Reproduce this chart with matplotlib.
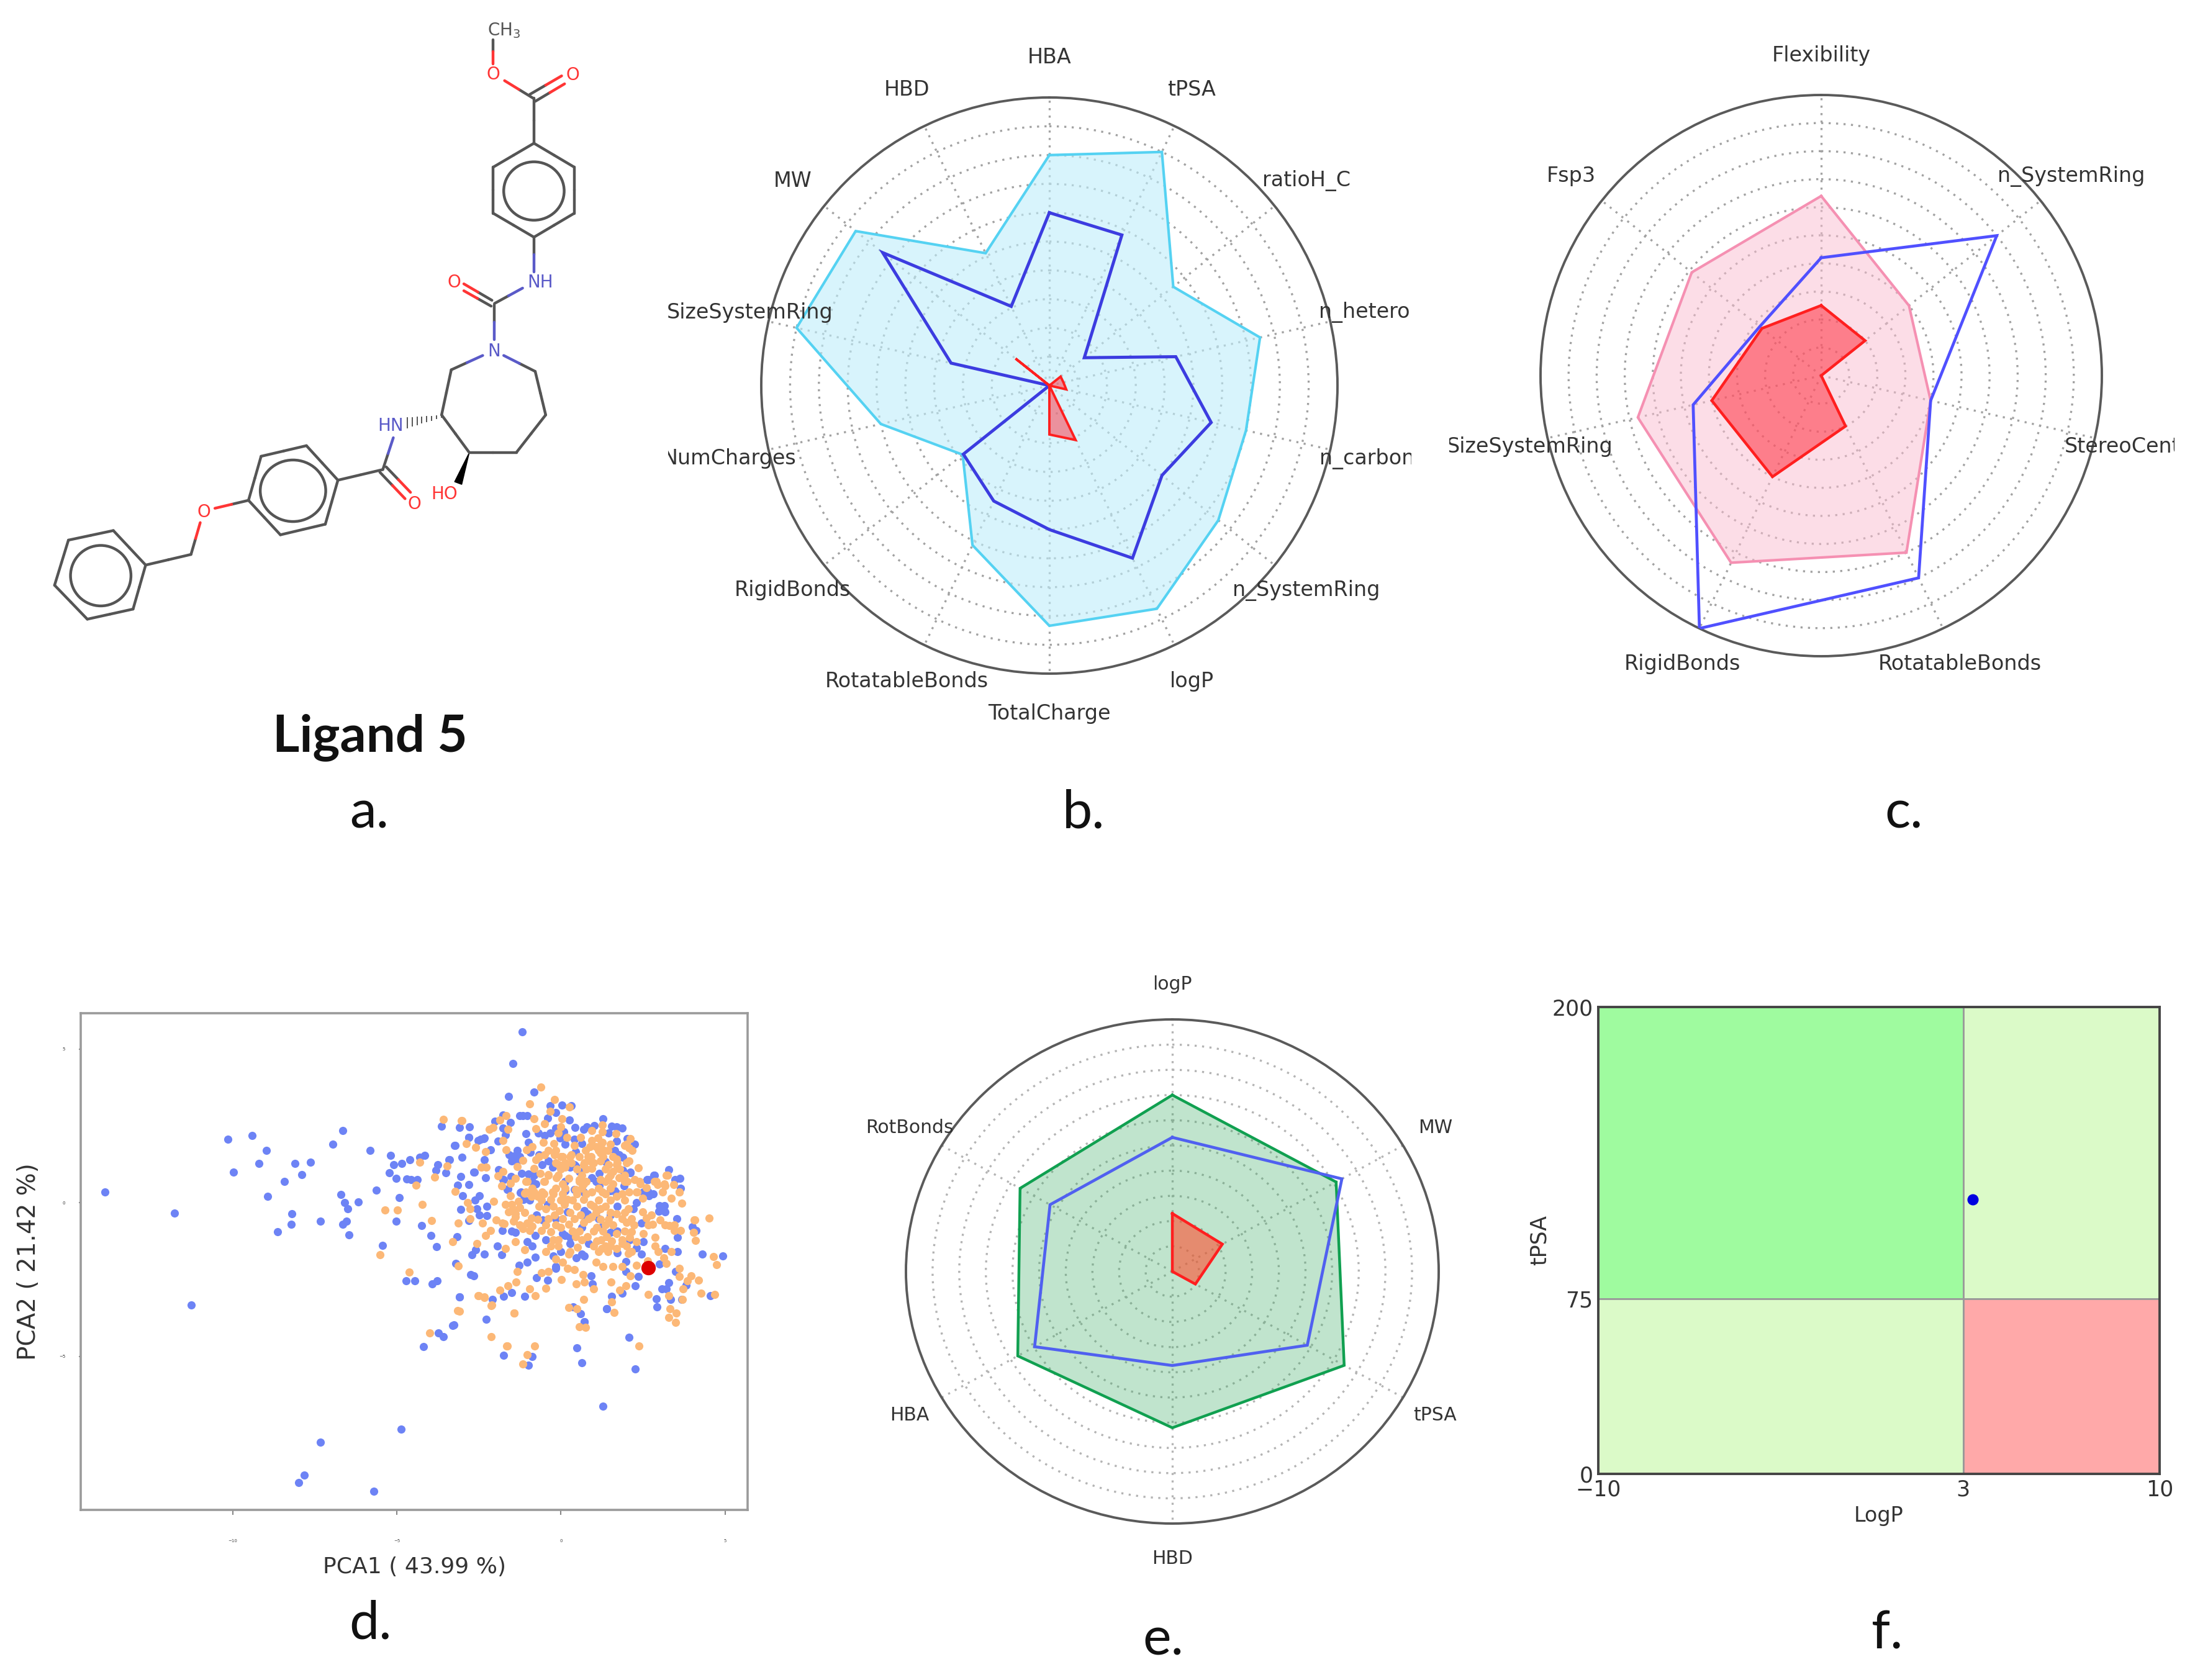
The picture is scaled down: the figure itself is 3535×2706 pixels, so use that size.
import numpy as np
import matplotlib
matplotlib.use("Agg")
import matplotlib.pyplot as plt
from matplotlib.patches import Ellipse, Polygon, Rectangle
from matplotlib.transforms import Bbox

W, H = 3535, 2706

# panel b
b_labels = ["HBA", "tPSA", "ratioH_C", "n_hetero", "n_carbon", "n_SystemRing", "logP", "TotalCharge",
            "RotatableBonds", "RigidBonds", "NumCharges", "SizeSystemRing", "MW", "HBD"]
b_upper = [0.80, 0.90, 0.55, 0.75, 0.70, 0.75, 0.86, 0.834, 0.615, 0.385, 0.60, 0.90, 0.86, 0.51]
b_ligand = [0.60, 0.58, 0.155, 0.45, 0.576, 0.50, 0.665, 0.50, 0.445, 0.382, 0.0, 0.35, 0.74, 0.305]
b_lower = [0.0, 0.0, 0.05, 0.05, 0.06, 0.0, 0.21, 0.17, 0.0, 0.0, 0.0, 0.0, 0.15, 0.0]

# panel c
c_labels = ["Flexibility", "n_SystemRing", "StereoCenter", "RotatableBonds", "RigidBonds", "SizeSystemRing", "Fsp3"]
c_upper = [0.64, 0.40, 0.40, 0.70, 0.74, 0.67, 0.59]
c_ligand = [0.42, 0.80, 0.40, 0.80, 1.0, 0.468, 0.28]
c_lower = [0.25, 0.20, 0.0, 0.20, 0.40, 0.40, 0.27]

# panel e
e_labels = ["logP", "MW", "tPSA", "HBD", "HBA", "RotBonds"]
e_upper = [0.70, 0.71, 0.745, 0.62, 0.67, 0.66]
e_ligand = [0.532, 0.735, 0.585, 0.373, 0.597, 0.53]
e_lower = [0.23, 0.217, 0.10, 0.0, 0.0, 0.0]

# panel f
f_xticks = [-10, 3, 10]
f_yticks = [0, 75, 200]
f_point = (3.34, 117.5)

# panel d
pca_ligand = (2.66, -2.12)
pca_blue = [
    (-13.89, .34), (-11.78, -.33), (-11.27, -3.32), (-10.15, 2.07), (-9.97, 1.0), (-9.4, 2.18), (-9.2, 1.28),
    (-8.97, 1.71), (-8.93, .2), (-8.64, -.94), (-8.43, .7), (-8.22, -.71), (-8.19, -.36), (-8.11, 1.28),
    (-7.9, .91), (-7.63, 1.32), (-7.32, -.6), (-6.95, 1.91), (-6.64, 2.35), (-6.71, .26), (-6.58, 0), (-6.49, -.2),
    (-6.18, .03), (-6.53, -.6), (-6.64, -.71), (-6.46, -1.05), (-5.81, 1.7), (-5.63, .4), (-5.44, -1.38),
    (-5.19, 1.54), (-5.1, 1.23), (-5.23, .97), (-5.02, .8), (-4.84, 1.28), (-4.6, 1.4), (-4.92, .16), (-5.02, -.6),
    (-4.69, .77), (-4.57, .75), (-4.37, .75), (-4.3, 1.48), (-4.15, 1.54), (-4.25, -.75), (-3.95, -1.07),
    (-3.79, -1.42), (-4.72, -2.55), (-4.46, -2.55), (-3.92, -2.64), (-3.77, -2.54), (-4.19, -4.69), (-3.74, -4.23),
    (-3.59, -4.37), (-3.29, -4.0), (-3.09, -3.06), (-2.75, -2.34), (-2.66, -2.38), (-2.28, -3.79), (-1.75, -4.96),
    (-.98, -5.3), (-.87, -5.01), (.48, -4.73), (.63, -5.2), (.71, -3.87), (1.39, -3.45), (2.07, -4.39), (2.26, -5.41),
    (1.28, -6.62), (-4.87, -7.38), (-7.33, -7.79), (-7.81, -8.86), (-7.99, -9.12), (-5.7, -9.39), (-1.18, 5.56),
    (-1.46, 4.53), (-1.6, 3.46), (-.81, 3.6),
    (-3.64, 2.5), (-3.09, 2.45), (-2.78, 2.47), (-3.24, 1.86), (-2.8, 2.12), (-2.44, 2.07), (-2.33, 2.1), (-1.92, 2.0),
    (-3.02, 1.49), (-2.33, 1.39), (-1.42, 1.53), (-1.58, 1.56), (-1.32, 1.7), (-1.25, 1.5), (-1.5, 1.36), (-1.35, 1.33),
    (-3.75, 1.24), (-3.8, 1.06), (-3.41, 1.39), (-3.51, .97), (-3.06, .85), (-2.64, 1.0), (-2.3, .82), (-3.14, .57),
    (-2.8, .6), (-2.99, .22), (-3.06, -.22), (-2.62, .08), (-2.48, .22), (-2.55, -.19), (-2.26, -.12), (-2.48, -.4),
    (-2.26, -.42), (-2.8, -.59), (-1.93, -1.4), (-2.71, -1.7), (-2.59, -1.54), (-2.33, -1.68), (-1.8, -1.7),
    (-1.79, -.9), (-1.5, -.93), (-1.39, -.96), (-1.03, -1.27), (-.88, -1.4), (-.78, -1.06), (-.79, -1.77), (-1.03, -1.94),
    (-1.27, -2.04), (-3.2, -1.97), (-3.17, -1.1), (-3.09, -3.07), (-2.08, -3.15), (-1.75, -3.05), (-1.5, -2.92), (-1.1, -3.05),
    (-.74, -2.45), (-.41, -2.52), (-.16, -2.14), (-.01, -1.6), (-.45, -1.2), (.13, -1.06), (.28, -1.33), (.46, -1.8),
    (.71, -1.74), (.93, -2.38), (.96, -2.65), (1.72, -1.64), (1.98, -1.91), (1.98, -2.24), (2.45, -1.67), (2.36, -2.4),
    (2.27, -2.7), (1.87, -2.95), (1.54, -3.05), (1.4, -3.45), (3.01, -1.99), (3.17, -1.5), (3.56, -1.6), (3.56, -1.13),
    (4.3, -1.67), (4.93, -1.74), (3.5, -2.24), (3.28, -2.61), (3.07, -2.81), (3.21, -2.81), (3.81, -2.68), (4.55, -3.02),
    (2.91, -3.12), (2.93, -3.39), (3.35, -3.15), (3.68, -3.14), (4.0, -.79), (4.12, -.9), (3.54, -.53), (3.07, -.2),
    (3.0, -.1), (3.15, -.1), (2.98, -.28), (3.18, -.3), (3.29, 1.08), (2.66, .75), (2.85, .89), (3.47, .75), (3.63, .79),
    (3.64, .48), (2.24, 1.9), (1.69, 2.0), (2.12, .99), (.38, -3.39), (.6, -3.62), (.72, -3.88), (-3.26, -3.98),
    (-1.26, 2.83), (-1.15, 2.83), (-1.03, 2.83), (-1.77, 2.86), (-.32, 3.16), (.03, 3.18), (.32, 3.16), (-.16, 2.94), (-.41, 2.76),
    (.26, 2.69), (-2.01, 2.65), (-1.53, 2.61), (-1.77, 2.44), (-1.69, 2.2), (-1.07, 2.24), (-.69, 2.27), (-.5, 2.18), (-.32, 2.27),
    (-.16, 2.44), (.43, 2.45), (.69, 2.4), (.79, 2.48), (1.01, 2.52), (1.29, 2.74), (1.54, 2.49), (1.7, 2.47), (1.86, 2.44), (1.45, 2.27),
    (2.02, 2.09), (.09, 2.3), (-.03, 2.1), (.13, 1.91), (.41, 2.07), (.63, 1.93), (-2.81, 2.13), (-2.52, 2.03), (-2.36, 2.09),
    (-.98, 1.97), (-3.23, 1.87), (-2.14, 1.72), (-3.4, 1.39), (-.93, 1.65), (-.66, 1.56), (.44, 1.66), (1.64, 1.7), (1.77, 1.56),
    (1.89, 1.49), (1.36, 1.33), (-.57, 1.23), (-.38, 1.36), (-.25, 1.16), (.44, 1.19), (.57, 1.02), (-2.65, .99), (-1.2, .96), (-.98, .94),
    (-.82, .89), (-1.89, 1.07), (-1.77, .75), (-1.51, .86), (-.88, .69), (-.76, .62), (-1.64, .42), (-1.23, .32), (.95, .82), (1.17, .96),
    (1.07, .69), (1.89, 1.06), (2.11, .98), (2.84, .9), (2.62, .75), (1.92, .55), (1.51, .38), (1.67, .32), (.69, .35), (1.17, .55), (.13, .38),
    (2.52, .35), (2.68, .22), (-1.75, .76), (-1.61, .45), (-1.21, .35), (.42, 1.23), (.28, 1.16), (.13, .69), (.42, .42), (1.65, .38),
    (2.3, .01), (2.2, -.19), (1.72, -.12), (1.51, -.39), (.71, -.26), (.81, -.36), (.64, -.39), (.2, -.29),
    (-.16, -.53), (-.41, -.05), (-.74, -.39), (-.56, -.56), (-1.14, .11), (-.96, .08), (.06, -1.0), (.28, -1.13), (1.14, -.53),
    (1.22, -.8), (.64, -.8), (.85, -1.33), (1.51, -.96), (1.72, -.93), (2.09, -1.2), (2.3, -1.47), (2.52, -1.27), (2.45, -.66),
    (2.81, .28), (2.66, .35), (-.23, -1.74), (-.16, -2.07), (.64, -1.67),
]
pca_orange = [
    (-5.35, -.24), (-4.99, -.24), (-5.51, -1.7), (-4.22, -.06), (-3.94, -.58), (-3.3, -1.27), (-4.63, -2.26), (-4.3, 1.32),
    (-4.42, .58), (-3.85, .83), (-3.59, 2.72), (-3.02, 2.68), (-4.0, -4.24), (-2.13, -4.37), (-1.66, -4.66), (-1.15, -5.24),
    (-1.03, -4.94), (-.8, -4.67), (-1.43, -3.59), (-3.14, -3.52), (-2.53, -3.02), (-2.34, -3.06), (-2.11, -3.33), (-.61, 3.77),
    (-.95, 3.21), (-.2, 3.36), (.26, 3.11), (2.37, -4.66), (4.51, -.5), (4.07, -.57),
    (-2.19, 2.4), (-2.07, 2.45), (-1.61, 2.4), (-2.89, 1.92), (-2.6, 1.81), (-2.3, 1.66), (-1.77, 2.03), (-1.67, 1.72),
    (-3.46, 1.19), (-3.22, .36), (-2.43, 1.15), (-2.27, 1.16), (-1.92, .88), (-1.39, .79), (-3.13, -.67), (-2.77, -.53),
    (-2.39, -.66), (-2.55, -1.33), (-2.3, -1.06), (-2.15, -.9), (-3.12, -2.06), (-1.33, -2.24), (-1.68, -1.5), (-1.39, -1.27),
    (-1.1, -1.54), (-1.97, -.56), (-1.72, -.69), (-1.79, -.66), (-1.39, -.46), (-1.03, -.66), (-.88, -.76), (-1.54, .22),
    (-1.68, -.05), (-1.46, -.19), (-1.39, -.36), (-2.84, .01), (-2.77, -.19), (-2.04, .05), (-2.51, -3.02), (-2.33, -3.08),
    (-2.12, -3.35), (-1.85, -2.85), (-1.61, -2.71), (-1.36, -2.58), (-3.09, -3.54), (-1.43, -3.59), (-.96, -2.81), (-.78, -3.02),
    (-.45, -2.78), (-.59, -2.28), (-.38, -2.24), (-.16, -1.84), (.06, -1.94), (.24, -1.67), (.2, -2.14), (.41, -2.18), (.02, -2.51),
    (.46, -2.65), (.67, -2.34), (.71, -2.58), (1.0, -2.81), (1.07, -1.94), (1.29, -2.07), (1.58, -2.07), (1.53, -2.58), (1.87, -2.07),
    (1.98, -2.71), (1.8, -2.85), (2.12, -2.38), (2.3, -2.04), (2.88, -1.13), (2.88, -1.4), (2.96, -1.6), (3.14, -1.8), (3.21, -1.97),
    (2.67, -2.98), (1.54, -3.22), (1.62, -3.58), (.7, -3.15), (.24, -3.42), (.49, -3.45), (.57, -4.03), (.75, -4.06), (-1.64, -4.67),
    (3.28, -3.02), (3.32, -3.45), (3.52, -3.59), (3.28, -3.74), (3.5, -3.89), (3.7, -3.14), (3.61, -2.14), (3.61, -2.41), (3.97, -2.38),
    (3.86, -2.55), (3.72, -2.81), (4.2, -2.53), (4.28, -2.94), (4.68, -2.98), (4.64, -1.75), (4.75, -2.01), (3.36, -1.6), (4.08, -.56),
    (4.04, -.96), (4.1, -1.23), (3.64, -.9), (3.46, -.73), (3.17, -.73), (3.03, -.56), (3.68, -.02), (3.36, .15), (2.75, -.39),
    (3.6, .35), (3.17, .55), (3.25, .89), (2.85, .69), (2.41, .62), (2.36, 1.14), (2.18, 1.7), (2.11, 2.09), (2.67, -.73), (2.52, -1.0),
    (2.3, -1.27), (2.09, -1.13), (1.87, -1.33),
    (-1.67, 2.84), (-.82, 2.74), (-.33, 2.98), (.03, 2.74), (-.5, 2.57), (-3.03, 2.67), (-1.86, 2.69), (-.77, 2.42), (0, 2.47), (-.08, 2.27),
    (1.26, 2.54), (.95, 2.34), (1.26, 2.3), (1.67, 2.24), (-.54, 1.97), (-.22, 1.93), (.19, 2.13), (.6, 2.13), (-.88, 1.83), (-1.04, 1.73),
    (.41, 1.87), (.95, 2.03), (1.13, 2.1), (1.26, 1.97), (1.07, 1.83), (1.32, 1.7), (1.2, 1.63), (.88, 1.83), (.76, 1.7), (1.95, 1.87),
    (2.08, 1.78), (-.38, 1.7), (-.5, 1.56), (-.19, 1.56), (.06, 1.5), (.32, 1.56), (.57, 1.5), (.82, 1.5), (-.76, 1.39), (-1.15, 1.38),
    (1.7, 1.43), (2.08, 1.35), (-1.32, 1.17), (-.82, 1.12), (-.06, 1.23), (.13, 1.16), (.32, 1.29), (.69, 1.23), (.95, 1.12), (.88, 1.36),
    (1.2, 1.36), (1.45, 1.23), (1.7, 1.23), (1.58, 1.02), (1.45, .82), (1.77, .82), (-1.77, 1.02), (-1.54, .64), (-1.07, .69),
    (-.63, .96), (-.38, .92), (-.5, .69), (-.13, .82), (.25, .79), (.06, .62), (.57, .75), (.69, .62), (.44, .42), (1.2, .75), (1.58, .62),
    (2.02, .69), (2.4, .69), (2.9, .69), (3.15, .62), (3.22, .89), (3.44, .59), (3.61, .35), (-1.8, .55), (-1.07, .35), (-.82, .35), (-.57, .35),
    (-.25, .35), (.95, .35), (1.26, .35), (2.08, .35), (2.33, .35),
    (-.3, .1), (.2, .1), (.7, .1), (.9, -.05), (1.2, -.2), (1.7, .2), (-.45, -.2), (-.05, -.25), (.1, -.05), (.6, -.4), (.95, -.45), (1.2, -.55),
    (1.7, -.35), (2.05, -.2), (-.7, -.55), (-.2, -.4), (.25, -.7), (.7, -.65), (1.1, -.8), (1.45, -.55), (2.0, -.65), (-.9, -.5), (-.6, -.9),
    (-.3, -.95), (.0, -.8), (.45, -1.1), (.8, -1.1), (1.1, -1.25), (1.4, -1.1), (1.7, -1.0), (2.15, -.95), (-.45, -1.6), (.5, -1.45), (1.25, -1.5),
    (1.55, -1.25), (1.7, -1.5), (2.15, -1.6), (2.65, -1.9), (2.05, -1.65), (-1.6, -.3), (-1.25, -.15), (-1.45, -.6), (-1.15, -.85), (-.95, -.9),
    (-1.1, .3), (-.9, .2), (-.7, .2), (-1.5, -.05), (-1.3, .05), (2.5, -.3), (2.6, -.5), (2.8, -.7), (3.3, -.75), (3.45, -.9), (2.3, .35), (2.5, .15),
    (2.6, .5), (2.95, .6), (3.1, .35), (2.25, .75),
    (1.22, 1.9), (1.51, 1.9), (2.01, 1.9), (-.16, 1.7), (1.14, 1.7), (1.43, 1.7), (-.67, 1.5), (-.01, 1.5), (.28, 1.5), (.93, 1.5), (1.29, 1.5),
    (1.58, 1.5), (-.16, 1.3), (.13, 1.3), (.71, 1.3), (1.0, 1.3), (1.72, 1.3), (2.01, 1.3), (-.01, 1.09), (.49, 1.09), (.78, 1.09), (1.36, 1.09),
    (1.8, 1.09), (-.38, .89), (-.09, .89), (.64, .89), (1.51, .89), (1.94, .89), (-1.03, .69), (-.52, .69), (.57, .69), (.78, .69), (1.36, .69),
    (1.94, .69), (-.88, .48), (-.16, .48), (.13, .48), (.64, .48), (1.14, .48), (1.51, .48), (-.52, .28), (-.23, .28), (.06, .28), (.49, .28), (.78, .28),
    (1.36, .28), (1.87, .28), (-.59, .08), (-.01, .08), (.35, .08), (1.14, .08), (1.51, .08), (1.94, .08), (-.67, -.12), (-.23, -.12), (.49, -.12),
    (1.0, -.12), (1.36, -.12), (-1.1, -.32), (.28, -.32), (1.07, -.32), (1.51, -.32), (1.94, -.32), (-.38, -.53), (.06, -.53), (.42, -.53), (.85, -.53),
    (1.87, -.53), (2.16, -.53), (-1.25, -.73), (-.45, -.73), (-.16, -.73), (1.36, -.73), (1.58, -.73), (2.23, -.73), (.35, -.93), (.57, -.93), (1.0, -.93),
    (1.29, -.93), (1.94, -.93), (-.23, -1.2), (-.09, -1.2), (.64, -1.2), (1.22, -1.2), (1.87, -1.2), (-.3, -1.4), (-.09, -1.4), (1.0, -1.4),
    (1.36, -1.4), (1.51, -1.4), (2.01, -1.4), (.28, -1.6), (1.14, -1.6), (1.43, -1.6),
]

fig = plt.figure(figsize=(W / 100, H / 100), dpi=100, facecolor="white")


def px_axes(x0, y0, x1, y1, **kw):
    return fig.add_axes([x0 / W, 1 - y1 / H, (x1 - x0) / W, (y1 - y0) / H], **kw)


def px_text(x, y, s, **kw):
    fig.text(x / W, 1 - y / H, s, ha="center", va="center", **kw)


def radar(cx, cy, rx, ry, labels, series, fs, grid="#a2a2a2", clip=None, shift={}):
    ax = px_axes(cx - rx, cy - ry, cx + rx, cy + ry, projection="polar")
    ax.set_aspect("auto")
    ax.set_theta_zero_location("N")
    ax.set_theta_direction(-1)
    angles = np.linspace(0, 2 * np.pi, len(labels), endpoint=False)
    ax.set_ylim(0, 1)
    ax.set_yticks(np.arange(0.1, 1.0, 0.1))
    ax.set_yticklabels([])
    ax.set_xticks(angles)
    ax.set_xticklabels([])
    ax.grid(True, color=grid, linestyle=(0, (1, 2.6)), linewidth=2.4)
    ax.spines["polar"].set_color("#5a5a5a")
    ax.spines["polar"].set_linewidth(2.8)
    ax.tick_params(length=0)
    th = np.append(angles, angles[0])
    for vals, edge, fill, alpha, lw in series:
        r = np.append(vals, vals[0])
        if fill:
            ax.fill(th, r, color=fill, alpha=alpha, zorder=3, linewidth=0)
        ax.plot(th, r, color=edge, linewidth=lw, zorder=4, solid_joinstyle="miter")
    for a, lab in zip(angles, labels):
        t = ax.annotate(lab, (a, 1.14), xytext=(shift.get(lab, 0), 0), textcoords="offset pixels", ha="center", va="center",
                        fontsize=fs, color="#333333", annotation_clip=False, zorder=6)
        if clip:
            t.set_clip_on(True)
            t.set_clip_box(Bbox([[clip[0], 0], [clip[1], H]]))
    return ax


radar(1690, 621, 464, 464, b_labels,
      [(b_upper, "#55d2f2", "#bfeefb", 0.6, 3.0), (b_ligand, "#3c3ce0", None, 1, 3.6), (b_lower, "#ff1f1f", "#ff3040", 0.5, 2.8)],
      24, clip=(1076, 2273), shift={"SizeSystemRing": 33, "n_hetero": -8, "n_carbon": -4})
radar(2933, 605, 452, 452, c_labels,
      [(c_upper, "#f590b2", "#fbbdd0", 0.5, 3.0), (c_ligand, "#5050ff", None, 1, 3.4), (c_lower, "#ff1f1f", "#ff2030", 0.5, 3.2)],
      24, clip=(2334, 3502), shift={"SizeSystemRing": 33})
radar(1888, 2048, 429, 406, e_labels,
      [(e_upper, "#10a050", "#2fa85a", 0.3, 3.2), (e_ligand, "#5060f0", None, 1, 3.4), (e_lower, "#ff1f1f", "#ff5030", 0.6, 3.2)],
      21.5, grid="#b4b4b4")

# PCA scatter
ax = px_axes(130, 1632, 1204, 2432)
blue = np.array(pca_blue)
orange = np.array(pca_orange)
ax.scatter(blue[:, 0], blue[:, 1], s=90, color="#6d83f5", linewidths=0, zorder=2)
ax.scatter(orange[:, 0], orange[:, 1], s=90, color="#fcb877", linewidths=0, zorder=3)
ax.scatter(*pca_ligand, s=280, color="#dd0000", linewidths=0, zorder=4)
ax.set_xlim(-14.63, 5.69)
ax.set_ylim(-10, 6.17)
ax.set_xticks([-10, -5, 0, 5])
ax.set_yticks([-5, 0, 5])
ax.tick_params(axis="x", length=6, width=1.5, color="#888888", labelsize=5, pad=28, labelcolor="#444444")
ax.tick_params(axis="y", length=2, width=1.5, color="#888888", labelsize=5, pad=16, labelcolor="#333333")
for s in ax.spines.values():
    s.set_color("#9a9a9a")
    s.set_linewidth(2.6)
ax.set_xlabel("PCA1 ( 43.99 %)", fontsize=26, color="#333333", va="center")
ax.xaxis.set_label_coords(0.5, -0.115)
ax.set_ylabel("PCA2 ( 21.42 %)", fontsize=28, color="#333333", va="center")
ax.yaxis.set_label_coords(-0.078, 0.5)

# LogP / tPSA quadrants
ax = px_axes(2574, 1622, 3478, 2374)
ax.set_xlim(f_xticks[0], f_xticks[2])
ax.set_ylim(f_yticks[0], f_yticks[2])
x0, x1, x2 = f_xticks
y0, y1, y2 = f_yticks
for (xa, xb, ya, yb, col) in [(x0, x1, y1, y2, "#9ffb9f"), (x1, x2, y1, y2, "#dbfac8"),
                              (x0, x1, y0, y1, "#dbfac8"), (x1, x2, y0, y1, "#ffa9a9")]:
    ax.add_patch(Rectangle((xa, ya), xb - xa, yb - ya, facecolor=col, edgecolor="#999999", linewidth=2))
ax.plot(*f_point, "o", color="#0000e0", markersize=12, zorder=5)
ax.set_xticks(f_xticks)
ax.set_yticks(f_yticks)
ax.tick_params(length=0, labelsize=25, labelcolor="#333333", pad=6)
for s in ax.spines.values():
    s.set_color("#444444")
    s.set_linewidth(2.8)
ax.set_xlabel("LogP", fontsize=24, color="#333333", labelpad=6)
ax.set_ylabel("tPSA", fontsize=25, color="#333333", labelpad=2)

# ligand structure, drawn in the coordinates of a 1568 square over the top left corner
mol = px_axes(0, 0, 1060, 1340)
mol.set_xlim(0, 1568)
mol.set_ylim(1568, 0)
mol.axis("off")
GRAY, RED, BLUE = "#555555", "#ff3535", "#5a5ac8"


def bond(p, q, c1=GRAY, c2=None):
    c2 = c2 or c1
    m = ((p[0] + q[0]) / 2, (p[1] + q[1]) / 2)
    mol.plot([p[0], m[0]], [p[1], m[1]], color=c1, lw=3.2, solid_capstyle="round")
    mol.plot([m[0], q[0]], [m[1], q[1]], color=c2, lw=3.2, solid_capstyle="round")


def ring(pts, center, rx, ry, tilt=0):
    closed = pts + [pts[0]]
    for p, q in zip(closed[:-1], closed[1:]):
        bond(p, q)
    mol.add_patch(Ellipse(center, 2 * rx, 2 * ry, angle=tilt, fill=False, edgecolor=GRAY, lw=3.2))


ring([(1272, 270), (1368, 315), (1368, 402), (1272, 447), (1175, 402), (1175, 315)], (1272, 360), 72, 55)
ring([(805, 905), (730, 840), (622, 860), (592, 943), (668, 1008), (775, 988)], (698, 925), 78, 58)
ring([(347, 1065), (270, 1000), (163, 1018), (130, 1103), (208, 1167), (317, 1148)], (240, 1085), 72, 57)
bond((1175, 75), (1175, 120), GRAY, RED)
bond((1270, 185), (1202, 152), GRAY, RED)
bond((1262, 178), (1338, 143), GRAY, RED)
bond((1275, 191), (1345, 158), GRAY, RED)
bond((1272, 185), (1272, 270))
bond((1272, 447), (1272, 512), GRAY, BLUE)
bond((1178, 572), (1245, 543), GRAY, BLUE)
bond((1172, 566), (1105, 535), GRAY, RED)
bond((1170, 577), (1105, 548), GRAY, RED)
bond((1177, 575), (1177, 640), GRAY, BLUE)
bond((1275, 700), (1200, 670), GRAY, BLUE)
bond((1075, 697), (1150, 670), GRAY, BLUE)
for p, q in [((1275, 700), (1300, 782)), ((1300, 782), (1230, 853)), ((1230, 853), (1118, 853)),
             ((1118, 853), (1052, 782)), ((1052, 782), (1075, 697)), ((912, 885), (805, 905)), ((455, 1045), (347, 1065))]:
    bond(p, q)
bond((912, 885), (937, 825), GRAY, BLUE)
bond((905, 890), (965, 940), GRAY, RED)
bond((920, 880), (978, 928), GRAY, RED)
bond((592, 943), (512, 958), GRAY, RED)
bond((455, 1045), (477, 985), GRAY, RED)
mol.add_patch(Polygon([(1118, 853), (1083, 908), (1100, 913)], color="black"))
for i in range(8):
    f = i / 7
    xm, ym = 1052 + (970 - 1052) * f, 785 + (797 - 785) * f
    mol.plot([xm, xm], [ym - 1 - 8 * f, ym + 1 + 8 * f], color=GRAY, lw=1.4)
for x, y, s, c in [(1200, 58, "CH$_3$", GRAY), (1175, 140, "O", RED), (1365, 142, "O", RED), (1287, 532, "NH", BLUE),
                   (1082, 533, "O", RED), (1177, 662, "N", BLUE), (930, 803, "HN", BLUE), (987, 950, "O", RED),
                   (1058, 932, "HO", RED), (486, 965, "O", RED)]:
    mol.text(x, y, s, color=c, fontsize=20, ha="center", va="center")

px_text(596, 1188, "Ligand 5", fontsize=60, fontweight="bold", family="Lato", color="#111111")
for x, y, s in [(595, 1310, "a."), (1745, 1310, "b."), (3066, 1310, "c."), (597, 2615, "d."), (1873, 2642, "e."), (3039, 2631, "f.")]:
    px_text(x, y, s, fontsize=62, family="Lato", color="#111111")

fig.savefig("out.png", dpi=100)
